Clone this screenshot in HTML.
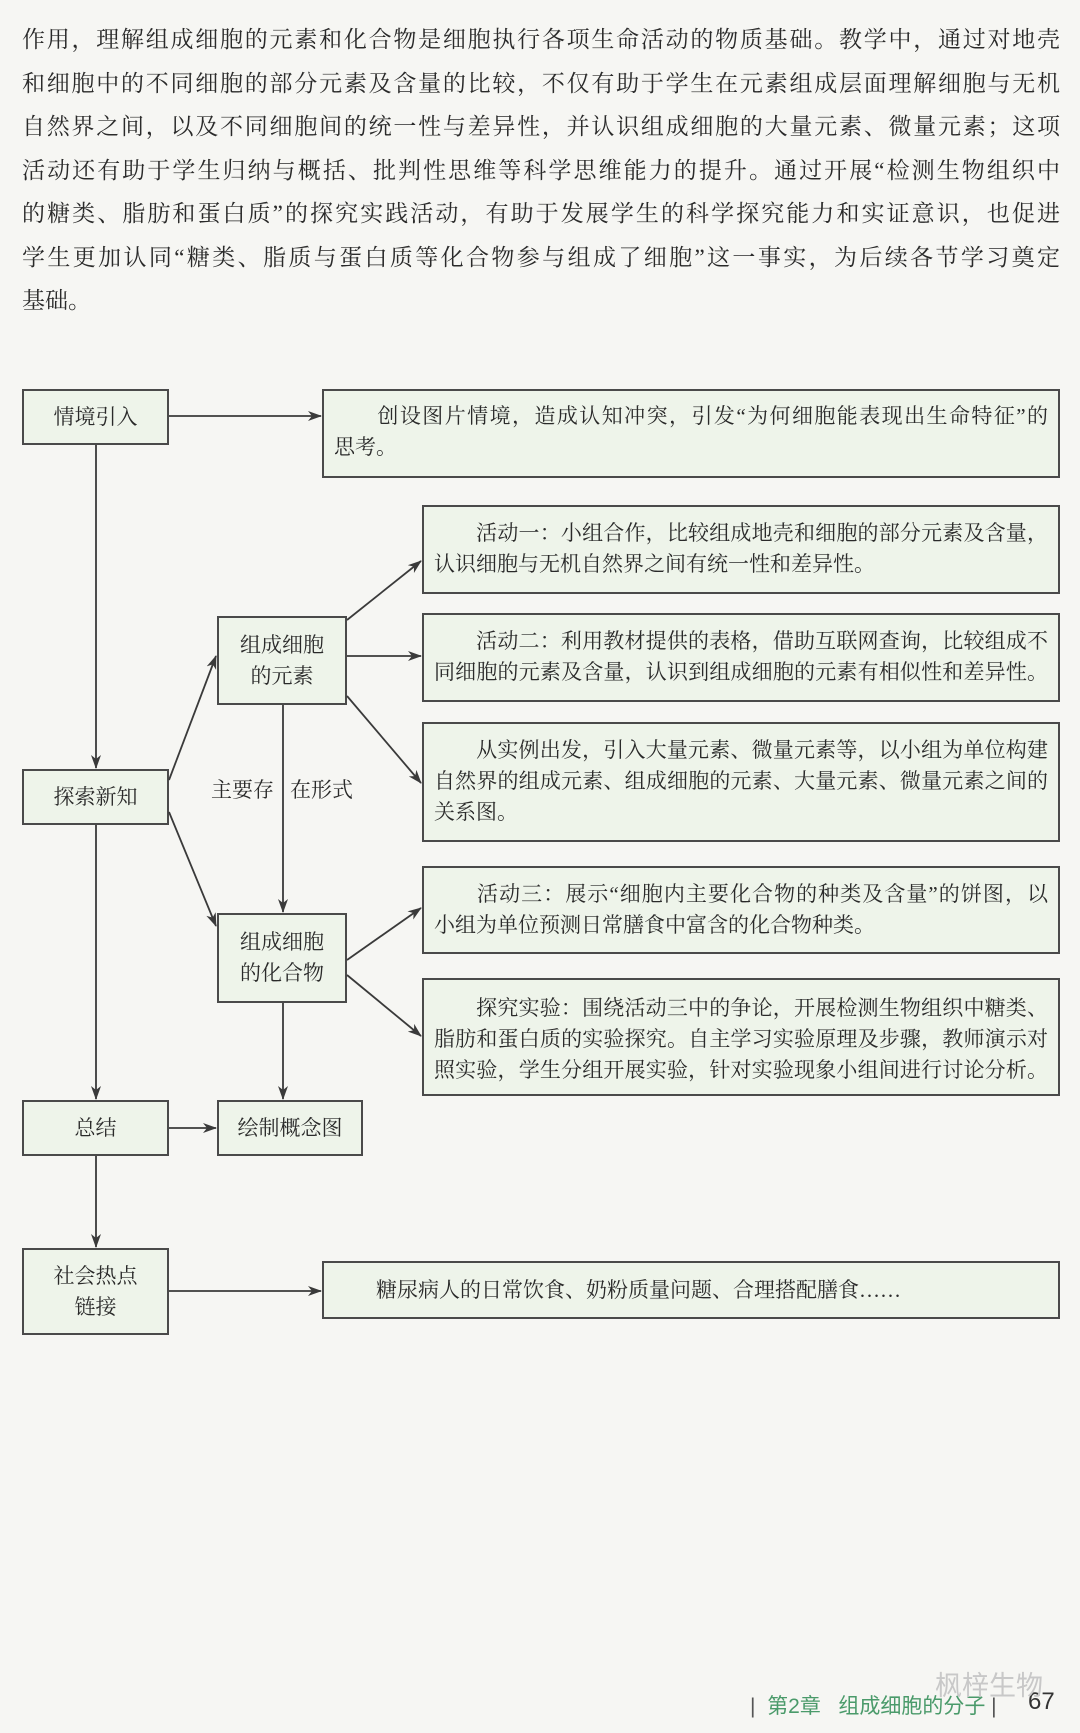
<!DOCTYPE html>
<html><head><meta charset="utf-8"><style>
html,body{margin:0;padding:0}
body{width:1080px;height:1733px;position:relative;background:#f6f6f3;overflow:hidden;font-family:"Liberation Serif","Noto Serif CJK SC","Noto Sans CJK SC",serif;color:#2a2a2a}
.p{position:absolute;left:22px;width:1038px;top:18px;font-size:23px;line-height:43.5px}
.l{display:block;white-space:nowrap;text-align:justify;text-align-last:justify}
.z{display:block;white-space:nowrap}
.b{position:absolute;background:#eef4ea;border:2px solid #4a4a4a;box-sizing:border-box}
.c{display:flex;align-items:center;justify-content:center;text-align:center;font-size:21px;line-height:31px}
.t{font-size:21px;line-height:31px;padding:0 10px 0 10px}
.lbl{position:absolute;font-size:21px}
</style></head><body>
<div class="p">
<span class="l">作用，理解组成细胞的元素和化合物是细胞执行各项生命活动的物质基础。教学中，通过对地壳</span>
<span class="l">和细胞中的不同细胞的部分元素及含量的比较，不仅有助于学生在元素组成层面理解细胞与无机</span>
<span class="l">自然界之间，以及不同细胞间的统一性与差异性，并认识组成细胞的大量元素、微量元素；这项</span>
<span class="l">活动还有助于学生归纳与概括、批判性思维等科学思维能力的提升。通过开展“检测生物组织中</span>
<span class="l">的糖类、脂肪和蛋白质”的探究实践活动，有助于发展学生的科学探究能力和实证意识，也促进</span>
<span class="l">学生更加认同“糖类、脂质与蛋白质等化合物参与组成了细胞”这一事实，为后续各节学习奠定</span>
<span class="z">基础。</span>
</div>

<div class="b c" style="left:22px;top:389px;width:147px;height:56px">情境引入</div>
<div class="b t" style="left:322px;top:389px;width:738px;height:89px;padding-top:10px"><span class="l">&emsp;&emsp;创设图片情境，造成认知冲突，引发“为何细胞能表现出生命特征”的</span><span class="z">思考。</span></div>
<div class="b t" style="left:422px;top:505px;width:638px;height:89px;padding-top:11px"><span class="l">&emsp;&emsp;活动一：小组合作，比较组成地壳和细胞的部分元素及含量，</span><span class="z">认识细胞与无机自然界之间有统一性和差异性。</span></div>
<div class="b c" style="left:217px;top:616px;width:130px;height:89px">组成细胞<br>的元素</div>
<div class="b t" style="left:422px;top:613px;width:638px;height:89px;padding-top:11px"><span class="l">&emsp;&emsp;活动二：利用教材提供的表格，借助互联网查询，比较组成不</span><span class="l">同细胞的元素及含量，认识到组成细胞的元素有相似性和差异性。</span></div>
<div class="b t" style="left:422px;top:722px;width:638px;height:120px;padding-top:11px"><span class="l">&emsp;&emsp;从实例出发，引入大量元素、微量元素等，以小组为单位构建</span><span class="l">自然界的组成元素、组成细胞的元素、大量元素、微量元素之间的</span><span class="z">关系图。</span></div>
<div class="b c" style="left:22px;top:769px;width:147px;height:56px">探索新知</div>
<div class="lbl" style="left:211px;top:774px">主要存</div>
<div class="lbl" style="left:290px;top:774px">在形式</div>
<div class="b t" style="left:422px;top:866px;width:638px;height:88px;padding-top:11px"><span class="l">&emsp;&emsp;活动三：展示“细胞内主要化合物的种类及含量”的饼图，以</span><span class="z">小组为单位预测日常膳食中富含的化合物种类。</span></div>
<div class="b c" style="left:217px;top:913px;width:130px;height:90px">组成细胞<br>的化合物</div>
<div class="b t" style="left:422px;top:978px;width:638px;height:118px;padding-top:13px"><span class="l">&emsp;&emsp;探究实验：围绕活动三中的争论，开展检测生物组织中糖类、</span><span class="l">脂肪和蛋白质的实验探究。自主学习实验原理及步骤，教师演示对</span><span class="l">照实验，学生分组开展实验，针对实验现象小组间进行讨论分析。</span></div>
<div class="b c" style="left:22px;top:1100px;width:147px;height:56px">总结</div>
<div class="b c" style="left:217px;top:1100px;width:146px;height:56px">绘制概念图</div>
<div class="b c" style="left:22px;top:1248px;width:147px;height:87px">社会热点<br>链接</div>
<div class="b t" style="left:322px;top:1261px;width:738px;height:58px;padding-top:12px"><span class="z">&emsp;&emsp;糖尿病人的日常饮食、奶粉质量问题、合理搭配膳食……</span></div>

<svg width="1080" height="1733" style="position:absolute;left:0;top:0" viewBox="0 0 1080 1733">
<defs><marker id="a" markerWidth="14" markerHeight="10" refX="13" refY="5" orient="auto" markerUnits="userSpaceOnUse"><path d="M0,0 L14,5 L0,10 L4,5 Z" fill="#3a3a3a"/></marker></defs>
<g stroke="#3a3a3a" stroke-width="1.8" fill="none" marker-end="url(#a)">
<line x1="169" y1="416" x2="321" y2="416"/>
<line x1="96" y1="445" x2="96" y2="768"/>
<line x1="96" y1="825" x2="96" y2="1099"/>
<line x1="96" y1="1156" x2="96" y2="1247"/>
<line x1="169" y1="780" x2="216" y2="656"/>
<line x1="169" y1="812" x2="216" y2="926"/>
<line x1="347" y1="620" x2="421" y2="561"/>
<line x1="347" y1="656" x2="421" y2="656"/>
<line x1="347" y1="696" x2="421" y2="783"/>
<line x1="347" y1="960" x2="421" y2="908"/>
<line x1="347" y1="975" x2="421" y2="1036"/>
<line x1="283" y1="705" x2="283" y2="912"/>
<line x1="283" y1="1003" x2="283" y2="1099"/>
<line x1="169" y1="1128" x2="216" y2="1128"/>
<line x1="169" y1="1291" x2="321" y2="1291"/>
</g>
</svg>

<div style="position:absolute;left:750px;top:1690px;font-family:'Liberation Sans','Noto Sans CJK SC',sans-serif;font-size:21px;color:#4a9a6a;white-space:nowrap"><span style="color:#555">|</span>&nbsp; 第2章 &nbsp; 组成细胞的分子 <span style="color:#555">|</span></div>
<div style="position:absolute;left:1028px;top:1688px;font-family:'Liberation Sans',sans-serif;font-size:24px;color:#333">67</div>
<div style="position:absolute;left:935px;top:1664px;font-family:'Liberation Sans','Noto Sans CJK SC',sans-serif;font-size:27px;color:#c8c8c8">枫梓生物</div>
</body></html>
